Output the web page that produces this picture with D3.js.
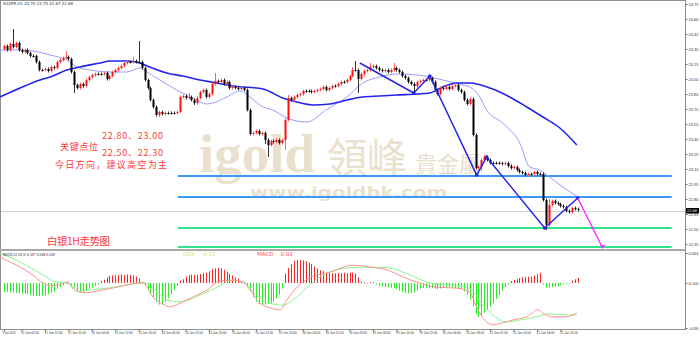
<!DOCTYPE html>
<html><head><meta charset="utf-8">
<script src="https://cdn.jsdelivr.net/npm/d3@7"></script>
<style>
body{margin:0;background:#fff}
svg{display:block;font-family:"DejaVu Sans",sans-serif}
</style></head><body>
<svg id="chart" width="700" height="337"></svg>
<script>
// hourly closes, SILVER H1 (open = previous close)
const firstOpen = 24.30;
const closes = [24.33,24.29,24.35,24.32,24.36,24.29,24.27,24.29,24.26,24.23,24.23,24.17,24.09,24.09,24.10,24.08,24.12,24.11,24.17,24.19,
24.21,24.22,24.20,24.07,23.94,23.91,23.95,23.93,23.99,24.02,24.04,24.05,24.05,24.05,24.06,24.00,24.03,24.07,24.09,24.11,
24.13,24.16,24.17,24.17,24.18,24.17,24.17,24.11,23.99,23.91,23.79,23.72,23.64,23.67,23.65,23.66,23.66,23.66,23.66,23.67,
23.82,23.83,23.81,23.82,23.79,23.76,23.81,23.87,23.89,23.82,23.85,23.95,23.98,23.97,23.99,23.95,23.97,23.91,23.92,23.91,
23.90,23.91,23.89,23.69,23.45,23.46,23.48,23.45,23.46,23.39,23.34,23.38,23.37,23.39,23.36,23.39,23.59,23.81,23.79,23.82,
23.84,23.85,23.88,23.88,23.88,23.87,23.88,23.89,23.90,23.92,23.89,23.91,23.93,23.93,23.95,23.97,23.97,23.99,24.03,24.09,
24.09,24.00,24.05,24.08,24.09,24.12,24.13,24.11,24.09,24.08,24.09,24.07,24.09,24.11,24.09,24.07,24.03,24.01,23.97,23.95,
23.93,23.97,23.98,23.99,23.99,24.01,23.97,23.89,23.85,23.91,23.90,23.92,23.90,23.93,23.94,23.89,23.87,23.79,23.75,23.80,
23.44,23.11,23.12,23.19,23.22,23.19,23.16,23.16,23.16,23.16,23.15,23.16,23.13,23.11,23.12,23.09,23.07,23.06,23.04,23.05,
23.05,23.07,23.05,23.05,22.79,22.54,22.74,22.78,22.76,22.75,22.73,22.72,22.68,22.67,22.71,22.70,22.69];
// notable wicks [bar, price]
const highSpikes = [[3,24.50],[21,24.28],[44,24.22],[46,24.38],[63,23.86],[72,24.06],[97,23.84],[119,24.12],[120,24.18],[125,24.16],[133,24.16],[154,23.96],[164,23.24],[186,22.80]];
const lowSpikes = [[24,23.86],[53,23.62],[65,23.74],[89,23.35],[90,23.22],[96,23.29],[121,23.86],[140,23.86],[163,23.08],[185,22.49]];

// moving averages [bar, price]
const maSlow = [[-1.4,23.82],[5.5,23.91],[12.3,23.99],[15.7,24.02],[21.5,24.09],[25.9,24.12],[32.8,24.16],[36.2,24.18],[42,24.18],[46.4,24.16],
[49.8,24.12],[55.6,24.06],[61.1,24.03],[66.9,23.99],[72.7,23.96],[78.2,23.93],[88.4,23.90],[95.2,23.81],[100,23.77],[105.5,23.74],
[111.3,23.75],[117.1,23.79],[122.5,23.82],[128.3,23.83],[134.1,23.84],[141,23.85],[145.4,23.86],[149.8,23.92],[154.6,23.96],[159,23.96],
[166.9,23.90],[172.7,23.82],[178.5,23.72],[184,23.62],[189.8,23.51],[195.6,23.34]];
const maFast = [[-1.4,24.29],[5.5,24.29],[9.9,24.28],[15.7,24.24],[21.5,24.19],[24.9,24.12],[29.4,24.09],[36.2,24.07],[42,24.07],[46.4,24.11],
[48.8,24.07],[53.2,23.99],[59,23.89],[64.5,23.81],[69.3,23.75],[71.3,23.76],[76.1,23.82],[80.5,23.88],[84,23.82],[88.4,23.72],
[91.8,23.69],[96.6,23.61],[103.4,23.57],[109.9,23.69],[117.1,23.82],[122.5,23.96],[128.3,24.02],[134.1,24.05],[141,24.04],[145.4,24.02],
[149.8,23.99],[156.7,23.94],[159,23.92],[162.5,23.82],[164.8,23.69],[170.3,23.56],[176.1,23.36],[179.5,23.12],[182.9,23.09],[186.3,23.02],
[190.8,22.92],[195.6,22.83]];

// drawn swing lines [bar, price]
const zigzag = [[121.5,24.16],[139.9,23.86],[145.4,24.03],[161.4,23.04],[164.8,23.22],[184.6,22.51],[195.9,22.81]];
const projection = [[195.9,22.81],[204.4,22.31]];
const resistLevels = [23.03, 22.82];
const supportLevels = [22.51, 22.32];
const lastPrice = 22.68;

// MACD histogram per bar
const macdHist = [-0.019,-0.019,-0.02,-0.02,-0.021,-0.022,-0.023,-0.023,-0.024,-0.026,-0.027,-0.028,-0.028,-0.027,-0.026,-0.024,-0.021,-0.018,-0.013,-0.009,
-0.005,-0.002,0.002,-0.004,-0.010,-0.016,-0.019,-0.019,-0.017,-0.013,-0.010,-0.006,-0.003,0.004,0.007,0.012,0.015,0.016,0.017,0.017,
0.018,0.017,0.018,0.017,0.016,0.014,0.010,0.002,-0.006,-0.015,-0.024,-0.032,-0.040,-0.046,-0.046,-0.040,-0.032,-0.024,-0.015,-0.006,
0.005,0.008,0.014,0.017,0.018,0.017,0.018,0.019,0.021,0.022,0.025,0.029,0.031,0.032,0.031,0.028,0.024,0.020,0.016,0.012,
0.009,0.004,0.002,-0.006,-0.018,-0.030,-0.040,-0.045,-0.046,-0.046,-0.045,-0.043,-0.040,-0.033,-0.025,-0.012,0.020,0.032,0.040,0.047,
0.049,0.049,0.048,0.046,0.043,0.040,0.035,0.031,0.027,0.025,0.022,0.021,0.021,0.021,0.021,0.021,0.022,0.021,0.022,0.022,
0.020,0.012,0.003,0.001,-0.001,0.002,0.001,-0.003,-0.006,-0.008,-0.009,-0.009,-0.010,-0.011,-0.013,-0.016,-0.019,-0.021,-0.022,-0.021,
-0.020,-0.015,-0.012,-0.011,-0.011,-0.012,-0.011,-0.012,-0.013,-0.012,-0.011,-0.010,-0.010,-0.010,-0.011,-0.012,-0.013,-0.018,-0.025,-0.035,
-0.050,-0.066,-0.072,-0.070,-0.064,-0.057,-0.050,-0.043,-0.034,-0.026,-0.016,-0.009,-0.003,0.004,0.006,0.008,0.010,0.012,0.013,0.013,
0.014,0.016,0.019,0.021,-0.003,-0.011,-0.010,-0.009,-0.008,-0.007,-0.005,-0.003,-0.002,-0.001,0.005,0.008,0.011];
const macdLine = [[-1.4,0.055],[2,0.045],[5.5,0.034],[9.9,0.017],[13.3,0],[15.7,-0.006],[19.1,-0.004],[21.5,0.002],[23.5,-0.009],[27,-0.021],
[30.4,-0.019],[35.2,-0.013],[38.6,-0.009],[44,-0.002],[47.4,0],[50.9,-0.030],[54.3,-0.045],[56.7,-0.051],[60.1,-0.043],[64.5,-0.030],
[69.3,-0.015],[73.7,0.004],[78.2,0.006],[81.6,0.002],[84,-0.015],[87.4,-0.043],[90.8,-0.053],[94.2,-0.057],[96.6,-0.036],[100,-0.009],
[104.4,0.011],[111.3,0.023],[119.1,0.038],[124.9,0.034],[130.7,0.028],[136.2,0.013],[142,0],[147.8,-0.009],[154.6,-0.011],[159,-0.019],
[161.4,-0.051],[163.5,-0.074],[166.9,-0.089],[170.3,-0.085],[173.7,-0.079],[178.5,-0.072],[182.3,-0.057],[183.9,-0.064],[187.4,-0.072],[192.2,-0.072],[195.6,-0.064]];
const signalLine = [[-1.4,0.064],[5.5,0.045],[12.3,0.021],[18.1,0.002],[21.5,0],[24.9,-0.019],[29.4,-0.015],[35.2,-0.011],[42,-0.004],[47.4,0.002],
[52.2,-0.019],[55.6,-0.036],[60.1,-0.040],[66.9,-0.026],[72.7,-0.009],[78.2,0.006],[81.6,0.002],[86.3,-0.026],[90.8,-0.043],[95.2,-0.047],
[100,-0.030],[104.4,-0.004],[110.2,0.021],[117.1,0.032],[124.9,0.034],[131.7,0.032],[138.6,0.017],[145.4,0],[152.2,-0.004],[159,-0.011],
[163.5,-0.047],[166.9,-0.068],[171.7,-0.083],[176.1,-0.079],[181.9,-0.072],[186.3,-0.066],[192.2,-0.068],[195.6,-0.068]];

const priceTicks = [24.75,24.60,24.45,24.30,24.15,24.00,23.85,23.70,23.55,23.40,23.25,23.10,22.95,22.80,22.65,22.50,22.35];
const macdTicks = [0.064, 0, -0.096];
const macdTickLabels = ["0.064", "0.00", "-0.096"];
const timeIdx = [0,6,14,22,30,38,46,54,62,70,78,86,94,102,110,118,126,134,142,150,158,166,174,182,190];
const timeLabels = ["9 Jun 2023","12 Jun 02:00","12 Jun 12:00","12 Jun 20:00","13 Jun 04:00","13 Jun 12:00","13 Jun 20:00","14 Jun 04:00","14 Jun 12:00","14 Jun 20:00",
"15 Jun 04:00","15 Jun 12:00","15 Jun 20:00","16 Jun 04:00","16 Jun 12:00","16 Jun 20:00","19 Jun 06:00","19 Jun 14:00","19 Jun 22:00","20 Jun 06:00",
"20 Jun 18:00","21 Jun 02:00","21 Jun 10:00","21 Jun 18:00","22 Jun 02:00"];

const svg = d3.select("#chart");
const axisX = 685, mainBottom = 249, subBottom = 329;

const x = d3.scaleLinear().domain([0, 196]).range([4, 578]);
const yP = d3.scaleLinear().domain([22.30, 24.79]).range([mainBottom, 0]);
const yM = d3.scaleLinear().domain([-0.096, 0.064]).range([328, 253]);

// watermark
const wm = svg.append("g").attr("fill", "#e9e1cd");
wm.append("text").attr("x", 199).attr("y", 172).style("font-family", "'Liberation Serif',serif")
  .style("font-weight", "bold").style("font-size", "55px").text("igold");
wm.append("text").attr("x", 327).attr("y", 172).style("font-family", "'Noto Sans CJK TC'")
  .style("font-size", "40px").text("領峰");
wm.append("text").attr("x", 415).attr("y", 172).style("font-family", "'Noto Sans CJK TC'")
  .style("font-size", "22px").text("貴金屬");
wm.append("text").attr("x", 250).attr("y", 198).style("font-weight", "bold")
  .style("font-size", "16px").attr("textLength", 197).attr("lengthAdjust", "spacingAndGlyphs").text("www.igoldhk.com");

// frame
svg.append("rect").attr("x", 0.5).attr("y", 0.5).attr("width", axisX).attr("height", subBottom)
  .attr("fill", "none").attr("stroke", "#909090");
svg.append("rect").attr("x", 0).attr("y", mainBottom).attr("width", axisX).attr("height", 2).attr("fill", "#a8a8a8");

// level lines
const levelStart = 59.4, levelEnd = 228;
svg.selectAll(".res").data(resistLevels).enter().append("line")
  .attr("x1", x(levelStart)).attr("x2", x(levelEnd)).attr("y1", d => yP(d)).attr("y2", d => yP(d))
  .attr("stroke", "#3b98f5").attr("stroke-width", 1.8);
svg.selectAll(".sup").data(supportLevels).enter().append("line")
  .attr("x1", x(levelStart)).attr("x2", x(levelEnd)).attr("y1", d => yP(d)).attr("y2", d => yP(d))
  .attr("stroke", "#2ee38a").attr("stroke-width", 1.8);

// last price line
svg.append("line").attr("x1", 1).attr("x2", axisX).attr("y1", Math.round(yP(lastPrice)) + 0.5).attr("y2", Math.round(yP(lastPrice)) + 0.5)
  .attr("stroke", "#d4d4d4");

// moving averages
const lineP = d3.line().x(d => x(d[0])).y(d => yP(d[1])).curve(d3.curveMonotoneX);
svg.append("path").attr("d", lineP(maFast)).attr("fill", "none").attr("stroke", "#9a9aff").attr("stroke-width", 1);
svg.append("path").attr("d", lineP(maSlow)).attr("fill", "none").attr("stroke", "#2323f0").attr("stroke-width", 1.6);

// candles
const hiMap = new Map(highSpikes), loMap = new Map(lowSpikes);
const candles = svg.append("g");
closes.forEach((c, i) => {
  const o = i ? closes[i - 1] : firstOpen;
  const hi = hiMap.has(i) ? hiMap.get(i) : Math.max(o, c) + 0.015;
  const lo = loMap.has(i) ? loMap.get(i) : Math.min(o, c) - 0.015;
  const cx = Math.round(x(i));
  const up = c > o;
  candles.append("line").attr("x1", cx + 0.5).attr("x2", cx + 0.5).attr("y1", yP(hi)).attr("y2", yP(lo))
    .attr("stroke", up ? "#ff6060" : "#303030").attr("stroke-width", 1);
  const top = yP(Math.max(o, c)), bot = yP(Math.min(o, c));
  candles.append("rect").attr("x", cx - 0.5).attr("y", top).attr("width", 2).attr("height", Math.max(1, bot - top))
    .attr("fill", up ? "#ff1010" : "#000");
});

// swing lines
const lineZ = d3.line().x(d => x(d[0])).y(d => yP(d[1]));
svg.append("path").attr("d", lineZ(zigzag)).attr("fill", "none").attr("stroke", "#2424e8").attr("stroke-width", 1.5);
svg.selectAll(".zm").data(zigzag.slice(1)).enter().append("circle")
  .attr("cx", d => x(d[0])).attr("cy", d => yP(d[1])).attr("r", 1.8).attr("fill", "#2424e8");
svg.append("path").attr("d", lineZ(projection)).attr("fill", "none").attr("stroke", "#ff30ff").attr("stroke-width", 1.5);
const pe = projection[1];
svg.append("path").attr("d", `M${x(pe[0]) - 2.5},${yP(pe[1]) - 3}L${x(pe[0]) + 2.5},${yP(pe[1]) - 3}L${x(pe[0])},${yP(pe[1]) + 1}Z`).attr("fill", "#ff30ff");

// annotations
const note = svg.append("g").attr("fill", "#ff3b3b").style("font-family", "'Noto Sans CJK SC'").style("font-size", "9px");
const notes = [
  {t: "22.80、23.00", x: 102, y: 139, w: 61},
  {t: "关键点位", x: 60, y: 150, w: 38},
  {t: "22.50、22.30", x: 102, y: 156, w: 61},
  {t: "今日方向，建议高空为主", x: 55, y: 168, w: 112}
];
notes.forEach(n => note.append("text").attr("x", n.x).attr("y", n.y)
  .attr("textLength", n.w).attr("lengthAdjust", "spacing").text(n.t));
note.append("text").attr("x", 47).attr("y", 245).style("font-size", "10.5px")
  .attr("textLength", 63).attr("lengthAdjust", "spacing").text("白银1H走势图");

// title
svg.append("text").attr("x", 3).attr("y", 5).style("font-size", "4px").attr("fill", "#333")
  .attr("textLength", 70).attr("lengthAdjust", "spacingAndGlyphs")
  .text("SILVER,H1  22.70 22.70 22.67 22.68");

// MACD pane
const hist = svg.append("g");
macdHist.forEach((v, i) => {
  const cx = Math.round(x(i));
  hist.append("rect").attr("x", cx).attr("width", 1)
    .attr("y", Math.min(yM(v), yM(0))).attr("height", Math.max(0.8, Math.abs(yM(v) - yM(0))))
    .attr("fill", v >= 0 ? "#ff2020" : "#22ee22");
});
const lineM = d3.line().x(d => x(d[0])).y(d => yM(d[1])).curve(d3.curveMonotoneX);
svg.append("path").attr("d", lineM(signalLine)).attr("fill", "none").attr("stroke", "#8cf58c").attr("stroke-width", 1);
svg.append("path").attr("d", lineM(macdLine)).attr("fill", "none").attr("stroke", "#ff9090").attr("stroke-width", 1);

svg.append("text").attr("x", 3).attr("y", 256).style("font-size", "4px").attr("fill", "#333")
  .attr("textLength", 52).attr("lengthAdjust", "spacingAndGlyphs")
  .text("MACD(12,26,9) 0.107 0.068 0.039");
svg.append("text").attr("x", 183).attr("y", 256).style("font-size", "5.5px").attr("fill", "#e6d84a")
  .attr("xml:space", "preserve").text("DEA    -0.11");
svg.append("text").attr("x", 257).attr("y", 256).style("font-size", "5.5px").attr("fill", "#ff5050")
  .attr("xml:space", "preserve").text("MACD    0.02");

// axes
function styleAxis(g, w) {
  g.select(".domain").remove();
  g.selectAll("line").attr("stroke", "#666");
  g.selectAll("text").style("font-size", "4px").attr("fill", "#333")
    .attr("textLength", w).attr("lengthAdjust", "spacingAndGlyphs");
}
const pAxis = svg.append("g").attr("transform", `translate(${axisX + 0.5},0)`)
  .call(d3.axisRight(yP).tickValues(priceTicks).tickSize(2).tickPadding(1).tickFormat(d3.format(".2f")));
styleAxis(pAxis, 10);

const mAxis = svg.append("g").attr("transform", `translate(${axisX + 0.5},0)`)
  .call(d3.axisRight(yM).tickValues(macdTicks).tickSize(2).tickPadding(1).tickFormat((d, i) => macdTickLabels[i]));
styleAxis(mAxis, 10);

// last price box
svg.append("rect").attr("x", axisX + 1).attr("y", yP(lastPrice) - 3).attr("width", 13).attr("height", 5.5).attr("fill", "#000");
svg.append("text").attr("x", axisX + 2).attr("y", yP(lastPrice) + 1).style("font-size", "3.5px").attr("fill", "#fff")
  .attr("textLength", 10).attr("lengthAdjust", "spacingAndGlyphs").text(d3.format(".2f")(lastPrice));

// time axis
const tAxis = svg.append("g").attr("transform", `translate(0,${subBottom + 0.5})`)
  .call(d3.axisBottom(x).tickValues(timeIdx).tickSize(2).tickPadding(0).tickFormat((d, i) => timeLabels[i]));
styleAxis(tAxis, 18);
tAxis.selectAll("text").attr("text-anchor", "start").attr("dx", "-1");
tAxis.selectAll("text").filter(d => d === 0).attr("dx", "-2").attr("textLength", 13);
</script></body></html>
